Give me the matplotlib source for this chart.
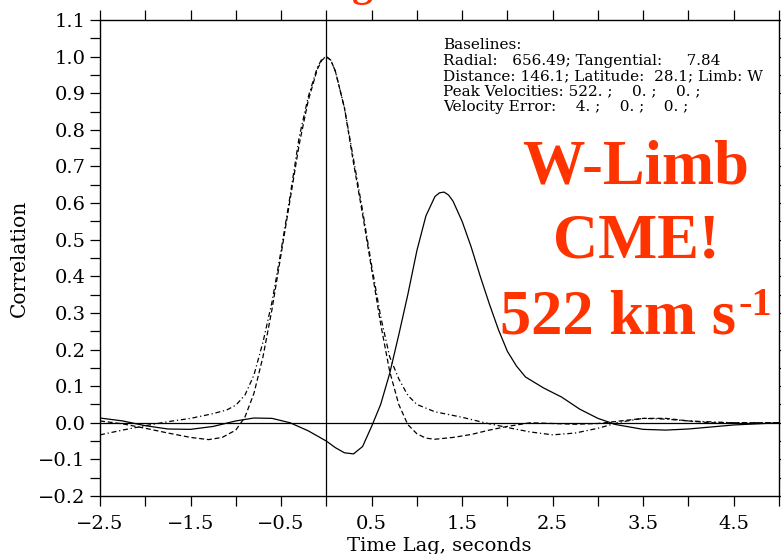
import matplotlib
matplotlib.use("Agg")
import matplotlib.pyplot as plt
import numpy as np

# Data
# long-dashed curve
dash_x = [-2.5, -2.25, -2.0, -1.75, -1.5, -1.3, -1.15, -1.0, -0.9, -0.8, -0.7, -0.6, -0.5,
          -0.4, -0.3, -0.2, -0.1, -0.05, 0.0, 0.05, 0.1, 0.2, 0.3, 0.4, 0.5, 0.6, 0.7, 0.8,
          0.9, 1.0, 1.1, 1.2, 1.4, 1.6, 1.8, 2.0, 2.25, 2.5, 2.75, 3.0, 3.25, 3.5, 3.75,
          4.0, 4.25, 4.5, 5.0]
dash_y = [0.005, -0.003, -0.015, -0.028, -0.04, -0.046, -0.04, -0.02, 0.015, 0.08, 0.18,
          0.31, 0.46, 0.61, 0.76, 0.88, 0.965, 0.99, 1.0, 0.99, 0.96, 0.86, 0.71, 0.57,
          0.42, 0.27, 0.14, 0.05, -0.005, -0.03, -0.042, -0.045, -0.04, -0.032, -0.02,
          -0.01, 0.0, -0.002, -0.004, -0.002, 0.005, 0.012, 0.012, 0.005, 0.0, 0.0, 0.0]

# dash-dot curve
dot_x = [-2.5, -2.25, -2.0, -1.75, -1.5, -1.25, -1.1, -1.0, -0.9, -0.8, -0.7, -0.6, -0.5,
         -0.4, -0.3, -0.2, -0.1, -0.05, 0.0, 0.05, 0.1, 0.2, 0.3, 0.4, 0.5, 0.6, 0.7, 0.8,
         0.9, 1.0, 1.2, 1.5, 1.75, 2.0, 2.25, 2.5, 2.75, 3.0, 3.25, 3.5, 3.75, 4.0, 4.5,
         5.0]
dot_y = [-0.033, -0.02, -0.008, 0.003, 0.012, 0.025, 0.035, 0.048, 0.075, 0.13, 0.22, 0.33,
         0.47, 0.62, 0.78, 0.89, 0.97, 0.993, 1.0, 0.99, 0.96, 0.86, 0.72, 0.58, 0.43,
         0.29, 0.18, 0.12, 0.075, 0.05, 0.03, 0.015, 0.0, -0.013, -0.025, -0.033, -0.028,
         -0.015, 0.002, 0.012, 0.01, 0.005, 0.0, 0.0]

# solid curve
solid_x = [-2.5, -2.25, -2.0, -1.75, -1.5, -1.25, -1.0, -0.8, -0.6, -0.4, -0.2, 0.0, 0.1,
           0.2, 0.3, 0.4, 0.5, 0.6, 0.7, 0.8, 0.9, 1.0, 1.1, 1.2, 1.25, 1.3, 1.35, 1.4,
           1.5, 1.6, 1.7, 1.8, 1.9, 2.0, 2.1, 2.2, 2.4, 2.6, 2.8, 3.0, 3.2, 3.5, 3.75,
           4.0, 4.5, 5.0]
solid_y = [0.013, 0.005, -0.008, -0.017, -0.018, -0.01, 0.005, 0.013, 0.012, 0.0, -0.022,
           -0.05, -0.068, -0.082, -0.085, -0.065, -0.01, 0.05, 0.135, 0.24, 0.35, 0.47,
           0.565, 0.618, 0.628, 0.63, 0.622, 0.605, 0.55, 0.48, 0.40, 0.325, 0.255, 0.195,
           0.155, 0.125, 0.095, 0.07, 0.037, 0.012, -0.005, -0.018, -0.02, -0.017, -0.006,
           0.0]

info_lines = [
    "Baselines:",
    "Radial:   656.49; Tangential:     7.84",
    "Distance: 146.1; Latitude:  28.1; Limb: W",
    "Peak Velocities: 522. ;    0. ;    0. ;",
    "Velocity Error:    4. ;    0. ;    0. ;",
]

fig = plt.figure(figsize=(7.81, 5.54), dpi=100)
ax = fig.add_axes([100/781, 58/554, 679/781, 476/554])

ax.plot(dash_x, dash_y, color='black', lw=0.9, dashes=(4, 2.2))
ax.plot(dot_x, dot_y, color='black', lw=0.9, dashes=(4, 2.2, 1, 2.2))
ax.plot(solid_x, solid_y, color='black', lw=0.9)
ax.axhline(0, color='black', lw=0.9)
ax.axvline(0, color='black', lw=0.9)

ax.set_xlim(-2.5, 5.0)
ax.set_ylim(-0.2, 1.1)
xt = np.arange(-2.5, 5.01, 0.5)
ax.set_xticks(xt)
ax.set_xticklabels([("%.1f" % v).replace("-", "\u2212") if i % 2 == 0 else ""
                    for i, v in enumerate(xt)])
yt = np.arange(-0.2, 1.101, 0.1)
ax.set_yticks(yt)
ax.set_yticklabels([("%.1f" % v).replace("-", "\u2212") for v in yt])
ax.set_yticks(np.arange(-0.15, 1.1, 0.1), minor=True)
ax.tick_params(which='both', direction='out', length=7, width=0.9,
               top=True, right=True, labelsize=14)
ax.tick_params(axis='x', pad=7)
for lab in ax.get_xticklabels() + ax.get_yticklabels():
    lab.set_family('DejaVu Serif')
for s in ax.spines.values():
    s.set_linewidth(1.0)

ax.set_xlabel("Time Lag, seconds", family='DejaVu Serif', fontsize=14)
ax.set_ylabel("Correlation", family='DejaVu Serif', fontsize=14.5)
ax.xaxis.set_label_coords(0.5, -0.086)
ax.yaxis.set_label_coords(-0.105, 0.5)

fig.text(443/781, 1 - 38/554, "\n".join(info_lines), family='DejaVu Serif',
         fontsize=11, va='top', ha='left', linespacing=1.14)

red = '#ff3300'
fig.text(636/781, 1 - 183/554, "W-Limb", color=red, family='Liberation Serif',
         weight='bold', fontsize=45, ha='center', va='baseline')
fig.text(636/781, 1 - 258/554, "CME!", color=red, family='Liberation Serif',
         weight='bold', fontsize=45, ha='center', va='baseline')
fig.text(500/781, 1 - 334/554, "522 km s", color=red, family='Liberation Serif',
         weight='bold', fontsize=45, ha='left', va='baseline')
fig.text(738/781, 1 - 315/554, "-1", color=red, family='Liberation Serif',
         weight='bold', fontsize=29, ha='left', va='baseline')
# bottom of a cut-off title letter at the very top
fig.text(362/781, 1 + 4/554, "g", color=red, family='Liberation Serif',
         weight='bold', fontsize=30, ha='center', va='baseline')

fig.savefig("out.png", dpi=100)
